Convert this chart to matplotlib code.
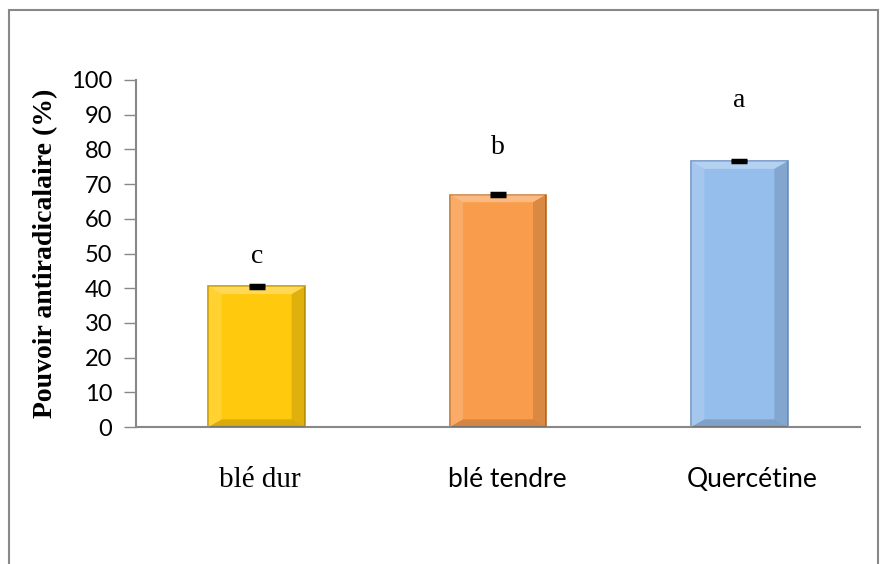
import numpy as np
import matplotlib.pyplot as plt
import matplotlib.transforms as mtransforms
from matplotlib.patches import Rectangle, Polygon

categories = ['blé dur', 'blé tendre', 'Quercétine']
values = [40.5, 67.0, 76.6]
errors = [0.3, 0.3, 0.3]
letters = ['c', 'b', 'a']
letter_pos = [49, 80.5, 94]
colors = ['#FFC90E', '#F99D4D', '#96BEEC']
edges = ['#C79A00', '#C56F24', '#6C92C4']
label_fonts = ['Liberation Serif', 'Lato', 'Lato']
label_sizes = [21, 19, 19]
label_shift = [3, 9, 13]  # decalage en pixels comme dans l'original

fig = plt.figure(figsize=(8.87, 5.64), dpi=100)
# cadre exterieur
fig.patches.append(Rectangle((9/887, -0.01), (878-9)/887, 1 - 10/564 + 0.01,
                             transform=fig.transFigure, fill=False,
                             edgecolor='#888888', lw=1.5))

ax = fig.add_axes([136/887, (564-427)/564, (860-136)/887, (427-80)/564])
x = np.arange(len(categories))
w = 0.40
bars = ax.bar(x, values, width=w, color=colors, edgecolor=edges, linewidth=1.2, zorder=2)

# petit effet biseau
for xi, v, c in zip(x, values, colors):
    bx = 0.055
    by = 2.2
    l, r = xi - w/2, xi + w/2
    ax.add_patch(Polygon([[l, v], [r, v], [r - bx, v - by], [l + bx, v - by]],
                         closed=True, facecolor='white', alpha=0.3, lw=0, zorder=3))
    ax.add_patch(Polygon([[r, v], [r, 0], [r - bx, by], [r - bx, v - by]],
                         closed=True, facecolor='black', alpha=0.12, lw=0, zorder=3))
    ax.add_patch(Polygon([[l, 0], [r, 0], [r - bx, by], [l + bx, by]],
                         closed=True, facecolor='black', alpha=0.15, lw=0, zorder=3))
    ax.add_patch(Polygon([[l, v], [l, 0], [l + bx, by], [l + bx, v - by]],
                         closed=True, facecolor='white', alpha=0.15, lw=0, zorder=3))

ax.errorbar(x, values, yerr=errors, fmt='none', ecolor='black',
            capsize=6, capthick=2.5, elinewidth=0, zorder=4)

for xi, t, p in zip(x, letters, letter_pos):
    ax.text(xi, p, t, ha='center', va='center', fontsize=20,
            family='Liberation Serif', color='black')

ax.set_xlim(-0.5, 2.5)
ax.set_ylim(0, 100)
ax.set_yticks(np.arange(0, 101, 10))
ax.set_xticks(x)
ax.set_xticklabels([])
# etiquettes de categories placees a la main
for xi, name, f, fs, dx in zip(x, categories, label_fonts, label_sizes, label_shift):
    tr = (ax.get_xaxis_transform() +
          mtransforms.ScaledTranslation(dx/100, 0, fig.dpi_scale_trans))
    ax.text(xi, -0.173, name, transform=tr, ha='center', va='baseline',
            fontsize=fs, family=f, color='black')
for lab in ax.get_yticklabels():
    lab.set_family('Lato')
    lab.set_fontsize(17)
ax.tick_params(axis='y', length=9, width=1, color='#888888', pad=8)
ax.tick_params(axis='x', length=0)
for s in ['top', 'right']:
    ax.spines[s].set_visible(False)
for s in ['left', 'bottom']:
    ax.spines[s].set_color('#888888')
    ax.spines[s].set_linewidth(1.5)

ax.set_ylabel('Pouvoir antiradicalaire (%)', fontsize=20, fontweight='bold',
              family='Liberation Serif')
ax.yaxis.set_label_coords(-0.107, 0.5)

fig.savefig('out.png', dpi=100)
